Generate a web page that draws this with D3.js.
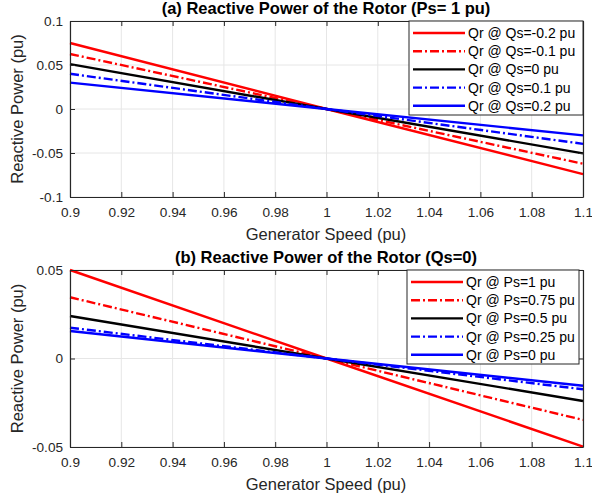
<!DOCTYPE html>
<html lang="en">
<head>
<meta charset="UTF-8">
<title>Reactive Power of the Rotor</title>
<script src="https://d3js.org/d3.v7.min.js"></script>
<style>
    body { margin: 0; background: #fff; }
    svg { display: block; font-family: "Liberation Sans", Arial, sans-serif; }
    .grid line { stroke: #e6e6e6; stroke-width: 1; }
    .axis text { fill: #262626; font-size: 13.6px; }
    .axis path, .axis line { stroke: #262626; }
</style>
</head>
<body>
<svg id="chart" width="592" height="504"></svg>
<script>
    // generator speed samples (pu)
    const speed = [0.9, 1.0, 1.1];
    const xTicks = [0.9, 0.92, 0.94, 0.96, 0.98, 1, 1.02, 1.04, 1.06, 1.08, 1.1];

    // (a) Qr for different Qs, Ps = 1 pu
    const qsLabels = ["Qr @ Qs=-0.2 pu", "Qr @ Qs=-0.1 pu", "Qr @ Qs=0 pu", "Qr @ Qs=0.1 pu", "Qr @ Qs=0.2 pu"];
    const qrQsm02 = [0.075, 0, -0.074];
    const qrQsm01 = [0.0625, 0, -0.0622];
    const qrQs0   = [0.051, 0, -0.0504];
    const qrQs01  = [0.040, 0, -0.0396];
    const qrQs02  = [0.030, 0, -0.0300];
    const yTicksA = [-0.1, -0.05, 0, 0.05, 0.1];

    // (b) Qr for different Ps, Qs = 0
    const psLabels = ["Qr @ Ps=1 pu", "Qr @ Ps=0.75 pu", "Qr @ Ps=0.5 pu", "Qr @ Ps=0.25 pu", "Qr @ Ps=0 pu"];
    const qrPs1   = [0.050, 0, -0.0498];
    const qrPs075 = [0.0346, 0, -0.0347];
    const qrPs05  = [0.024, 0, -0.024];
    const qrPs025 = [0.0174, 0, -0.0174];
    const qrPs0   = [0.0155, 0, -0.0154];
    const yTicksB = [-0.05, 0, 0.05];

    const colors = ["#ff0000", "#ff0000", "#000000", "#0000ff", "#0000ff"];
    const dashes = [null, "9,3,2,3", null, "9,3,2,3", null];

    const svg = d3.select("#chart");

    function panel(opt) {
        const x = d3.scaleLinear().domain([0.9, 1.1]).range([70, 583]);
        const y = d3.scaleLinear().domain(opt.yDomain).range([opt.bottom, opt.top]);
        const g = svg.append("g");

        // grid
        const grid = g.append("g").attr("class", "grid");
        grid.selectAll(".gx").data(xTicks).enter().append("line")
            .attr("x1", d => x(d)).attr("x2", d => x(d))
            .attr("y1", opt.top).attr("y2", opt.bottom);
        grid.selectAll(".gy").data(opt.yTicks).enter().append("line")
            .attr("x1", 70).attr("x2", 583)
            .attr("y1", d => y(d)).attr("y2", d => y(d));

        // lines
        const line = d3.line().x((d, i) => x(speed[i])).y(d => y(d));
        opt.series.forEach((s, i) => {
            g.append("path")
                .attr("d", line(s))
                .attr("fill", "none")
                .attr("stroke", colors[i])
                .attr("stroke-width", 2.4)
                .attr("stroke-dasharray", dashes[i]);
        });

        // axes (box with ticks on all sides)
        const fmtY = d => +d.toFixed(2);
        g.append("g").attr("class", "axis")
            .attr("transform", `translate(0,${opt.bottom})`)
            .call(d3.axisBottom(x).tickValues(xTicks).tickSizeInner(-5).tickSizeOuter(0).tickPadding(10)
                .tickFormat(d => +d.toFixed(2)));
        g.append("g").attr("class", "axis")
            .attr("transform", `translate(0,${opt.top})`)
            .call(d3.axisTop(x).tickValues(xTicks).tickSizeInner(-5).tickSizeOuter(0).tickFormat(""));
        g.append("g").attr("class", "axis")
            .attr("transform", "translate(70,0)")
            .call(d3.axisLeft(y).tickValues(opt.yTicks).tickSizeInner(-5).tickSizeOuter(0).tickPadding(7)
                .tickFormat(fmtY));
        g.append("g").attr("class", "axis")
            .attr("transform", "translate(583,0)")
            .call(d3.axisRight(y).tickValues(opt.yTicks).tickSizeInner(-5).tickSizeOuter(0).tickFormat(""));
        g.selectAll(".axis path").attr("stroke-width", 1.2);

        // titles
        g.append("text").attr("x", 326).attr("y", opt.top - 7)
            .attr("text-anchor", "middle").attr("font-weight", "bold")
            .attr("font-size", "16.5px").attr("fill", "#000").text(opt.title);
        g.append("text").attr("x", 326).attr("y", opt.bottom + 43)
            .attr("text-anchor", "middle").attr("font-size", "16.5px")
            .attr("fill", "#262626").text("Generator Speed (pu)");
        g.append("text")
            .attr("transform", `translate(23,${(opt.top + opt.bottom) / 2}) rotate(-90)`)
            .attr("text-anchor", "middle").attr("font-size", "16.5px")
            .attr("fill", "#262626").text("Reactive Power (pu)");

        // legend
        const lg = g.append("g").attr("transform", `translate(${opt.legX},${opt.top})`);
        lg.append("rect").attr("x", 0).attr("y", 0)
            .attr("width", opt.legW).attr("height", 94)
            .attr("fill", "#fff").attr("stroke", "#262626").attr("stroke-width", 1);
        opt.labels.forEach((lab, i) => {
            const cy = 12 + i * 18.2;
            lg.append("line").attr("x1", 4).attr("x2", 56).attr("y1", cy).attr("y2", cy)
                .attr("stroke", colors[i]).attr("stroke-width", 2.4)
                .attr("stroke-dasharray", dashes[i]);
            lg.append("text").attr("x", 59).attr("y", cy + 5)
                .attr("font-size", "14px").attr("fill", "#000").text(lab);
        });
    }

    panel({
        top: 21, bottom: 197, yDomain: [-0.1, 0.1], yTicks: yTicksA,
        series: [qrQsm02, qrQsm01, qrQs0, qrQs01, qrQs02],
        labels: qsLabels, legX: 409, legW: 174,
        title: "(a) Reactive Power of the Rotor (Ps= 1 pu)"
    });
    panel({
        top: 270, bottom: 447, yDomain: [-0.05, 0.05], yTicks: yTicksB,
        series: [qrPs1, qrPs075, qrPs05, qrPs025, qrPs0],
        labels: psLabels, legX: 407, legW: 172,
        title: "(b) Reactive Power of the Rotor (Qs=0)"
    });
</script>
</body>
</html>
